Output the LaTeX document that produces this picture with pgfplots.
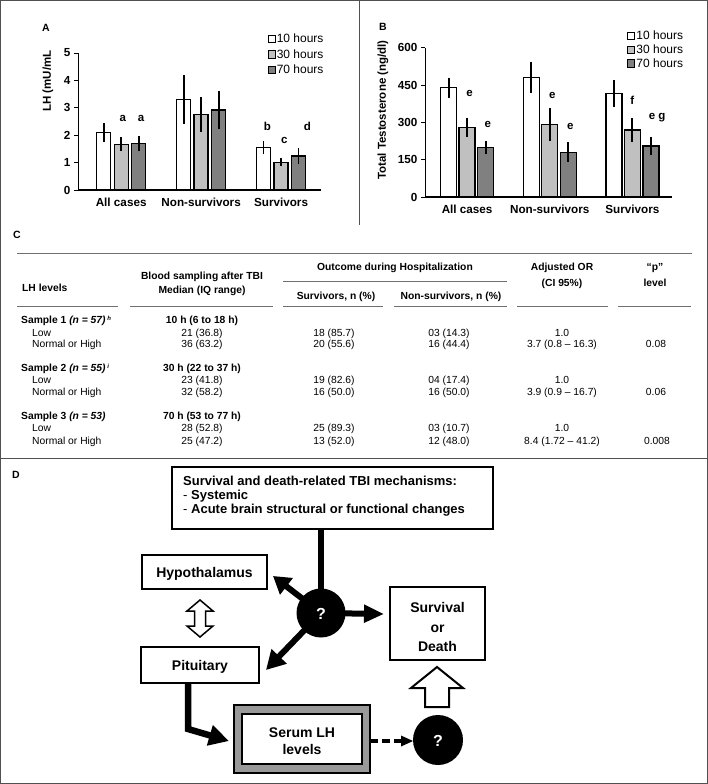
\documentclass[border=0pt]{standalone}
\usepackage{fontspec}
\setmainfont{Liberation Sans}
\usepackage{pgfplots}
\pgfplotsset{compat=1.18}
\usetikzlibrary{arrows.meta}
\definecolor{lg}{HTML}{C0C0C0}
\definecolor{dg}{HTML}{808080}
\definecolor{framec}{HTML}{505050}
\definecolor{rulec}{HTML}{707070}

\pgfplotsset{
  mylegend/.style={legend image code/.code={\draw[##1,line width=1pt] (0pt,-3.6pt) rectangle (7.2pt,3.6pt);}},
  mybar/.style={draw=black, line width=1.3pt, mylegend,
     error bars/y dir=both, error bars/y explicit, error bars/error mark=none,
     error bars/error bar style={line width=1.8pt, black}},
  chart/.style={
    anchor=south west, scale only axis,
    axis x line*=bottom, axis y line*=left,
    x axis line style={line width=1.5pt},
    y axis line style={line width=1pt},
    xtick={0,1,2}, xticklabels={All cases,Non-survivors,Survivors},
    x tick style={draw=none},
    tick align=outside, major tick length=4pt,
    y tick style={line width=0.8pt, black},
    tick label style={font=\fontsize{11.7}{13}\selectfont\bfseries},
    /pgf/number format/assume math mode=true,
    legend cell align=left,
    clip=false,
  },
}
\tikzset{
  tb/.style={font=\fontsize{10.3}{12}\selectfont, inner sep=0pt},
  th/.style={font=\fontsize{10.3}{12}\selectfont\bfseries, inner sep=0pt},
  dg/.style={font=\fontsize{14}{16}\selectfont\bfseries, inner sep=0pt},
}

\begin{document}
\begin{tikzpicture}
\useasboundingbox (0,0) rectangle (708pt,-784pt);

% ---------------- Panel A ----------------
\begin{axis}[chart,
  at={(78pt,-190pt)}, width=243pt, height=137pt,
  xmin=-0.54, xmax=2.5, ymin=0, ymax=5,
  ytick={0,1,2,3,4,5},
  ybar=3.5pt, bar width=14pt,
  legend style={at={(rel axis cs:1.015,1.15)}, anchor=north east, draw=none, fill=none,
    font=\fontsize{12}{13}\selectfont, row sep=3.5pt, inner sep=0pt,
    nodes={inner sep=1pt}},
]
\addplot+[mybar, fill=white] coordinates {(0,2.10) +- (0,0.35) (1,3.31) +- (0,0.90) (2,1.54) +- (0,0.24)};
\addplot+[mybar, fill=lg] coordinates {(0,1.67) +- (0,0.25) (1,2.76) +- (0,0.64) (2,1.01) +- (0,0.14)};
\addplot+[mybar, fill=dg] coordinates {(0,1.70) +- (0,0.28) (1,2.92) +- (0,0.70) (2,1.24) +- (0,0.29)};
\legend{10 hours,30 hours,70 hours}
\node[font=\fontsize{11.5}{13}\selectfont\bfseries] at (axis cs:0.02,2.6) {a};
\node[font=\fontsize{11.5}{13}\selectfont\bfseries] at (axis cs:0.25,2.6) {a};
\node[font=\fontsize{11.5}{13}\selectfont\bfseries] at (axis cs:1.83,2.33) {b};
\node[font=\fontsize{11.5}{13}\selectfont\bfseries] at (axis cs:2.04,1.80) {c};
\node[font=\fontsize{11.5}{13}\selectfont\bfseries] at (axis cs:2.33,2.33) {d};
\end{axis}

% ---------------- Panel B ----------------
\begin{axis}[chart,
  at={(425pt,-197pt)}, width=247pt, height=149.3pt,
  xmin=-0.51, xmax=2.48, ymin=0, ymax=600,
  ytick={0,150,300,450,600},
  ybar=2.5pt, bar width=16pt,
  legend style={at={(rel axis cs:1.05,1.12)}, anchor=north east, draw=none, fill=none,
    font=\fontsize{12}{13}\selectfont, row sep=1.5pt, inner sep=0pt,
    nodes={inner sep=1pt}},
]
\addplot+[mybar, fill=white] coordinates {(0,439) +- (0,41) (1,481) +- (0,62) (2,417) +- (0,55)};
\addplot+[mybar, fill=lg] coordinates {(0,280) +- (0,38) (1,292) +- (0,65) (2,269) +- (0,49)};
\addplot+[mybar, fill=dg] coordinates {(0,198) +- (0,27) (1,180) +- (0,41) (2,205) +- (0,36)};
\legend{10 hours,30 hours,70 hours}
\node[font=\fontsize{11.5}{13}\selectfont\bfseries] at (axis cs:0.03,417) {e};
\node[font=\fontsize{11.5}{13}\selectfont\bfseries] at (axis cs:0.25,293) {e};
\node[font=\fontsize{11.5}{13}\selectfont\bfseries] at (axis cs:1.03,407) {e};
\node[font=\fontsize{11.5}{13}\selectfont\bfseries] at (axis cs:1.25,285) {e};
\node[font=\fontsize{11.5}{13}\selectfont\bfseries] at (axis cs:2.00,387) {f};
\node[font=\fontsize{11.5}{13}\selectfont\bfseries] at (axis cs:2.30,320) {e g};
\end{axis}

\begin{scope}[x=1pt,y=-1pt]
% frame
\draw[framec, line width=1.2pt] (0.6,0.6) rectangle (707.4,783.4);
\draw[framec, line width=1pt] (359,0) -- (359,225);
\draw[framec, line width=1pt] (0,458) -- (708,458);

% panel labels & y labels
\node[font=\fontsize{10.5}{12}\selectfont\bfseries, inner sep=0] at (46,28) {A};
\node[font=\fontsize{10.5}{12}\selectfont\bfseries, inner sep=0] at (383,27) {B};
\node[font=\fontsize{10.5}{12}\selectfont\bfseries, inner sep=0] at (17,235) {C};
\node[font=\fontsize{10.5}{12}\selectfont\bfseries, inner sep=0] at (16,475) {D};
\node[rotate=90, font=\fontsize{11.5}{13}\selectfont\bfseries, inner sep=0] at (48,81) {LH (mU/mL};
\node[rotate=90, font=\fontsize{11.5}{13}\selectfont\bfseries, inner sep=0] at (383,110) {Total Testosterone (ng/dl)};

% ---------------- Table C ----------------
\draw[rulec, line width=1pt] (17,253) -- (692,253);
\draw[rulec, line width=1pt] (283,281) -- (507,281);
\foreach \a/\b in {17/118,130/273,283/383,394/507,517/608,618/691}
  \draw[rulec, line width=1pt] (\a,306) -- (\b,306);

\node[th, anchor=base west] at (22,291.6) {LH levels};
\node[th, anchor=base] at (202,279.6) {Blood sampling after TBI};
\node[th, anchor=base] at (202,293.6) {Median (IQ range)};
\node[th, anchor=base] at (395,270.6) {Outcome during Hospitalization};
\node[th, anchor=base] at (336,299.6) {Survivors, n (\%)};
\node[th, anchor=base] at (451,299.6) {Non-survivors, n (\%)};
\node[th, anchor=base] at (562,270.6) {Adjusted OR};
\node[th, anchor=base] at (562,286.6) {(CI 95\%)};
\node[th, anchor=base] at (655,270.6) {“p”};
\node[th, anchor=base] at (655,286.6) {level};

% sample 1
\node[th, anchor=base west] at (21,323.6) {Sample 1 \textit{(n = 57)}\,\raisebox{0.5ex}{\fontsize{6}{7}\selectfont\textit{h}}};
\node[th, anchor=base] at (202,323.6) {10 h (6 to 18 h)};
\node[tb, anchor=base west] at (32,336.3) {Low};
\node[tb, anchor=base west] at (32,347.9) {Normal or High};
\node[tb, anchor=base] at (202,336.3) {21 (36.8)};
\node[tb, anchor=base] at (202,347.9) {36 (63.2)};
\node[tb, anchor=base] at (334,336.3) {18 (85.7)};
\node[tb, anchor=base] at (334,347.9) {20 (55.6)};
\node[tb, anchor=base] at (449,336.3) {03 (14.3)};
\node[tb, anchor=base] at (449,347.9) {16 (44.4)};
\node[tb, anchor=base] at (562,336.3) {1.0};
\node[tb, anchor=base] at (562,347.9) {3.7 (0.8 – 16.3)};
\node[tb, anchor=base] at (656,347.9) {0.08};
% sample 2
\node[th, anchor=base west] at (21,371.3) {Sample 2 \textit{(n = 55)}\,\raisebox{0.5ex}{\fontsize{6}{7}\selectfont\textit{i}}};
\node[th, anchor=base] at (202,371.3) {30 h (22 to 37 h)};
\node[tb, anchor=base west] at (32,383.6) {Low};
\node[tb, anchor=base west] at (32,395.9) {Normal or High};
\node[tb, anchor=base] at (202,383.6) {23 (41.8)};
\node[tb, anchor=base] at (202,395.9) {32 (58.2)};
\node[tb, anchor=base] at (334,383.6) {19 (82.6)};
\node[tb, anchor=base] at (334,395.9) {16 (50.0)};
\node[tb, anchor=base] at (449,383.6) {04 (17.4)};
\node[tb, anchor=base] at (449,395.9) {16 (50.0)};
\node[tb, anchor=base] at (562,383.6) {1.0};
\node[tb, anchor=base] at (562,395.9) {3.9 (0.9 – 16.7)};
\node[tb, anchor=base] at (656,395.9) {0.06};
% sample 3
\node[th, anchor=base west] at (21,419.1) {Sample 3 \textit{(n = 53)}};
\node[th, anchor=base] at (202,419.1) {70 h (53 to 77 h)};
\node[tb, anchor=base west] at (32,431.9) {Low};
\node[tb, anchor=base west] at (32,444.3) {Normal or High};
\node[tb, anchor=base] at (202,431.9) {28 (52.8)};
\node[tb, anchor=base] at (202,444.3) {25 (47.2)};
\node[tb, anchor=base] at (334,431.9) {25 (89.3)};
\node[tb, anchor=base] at (334,444.3) {13 (52.0)};
\node[tb, anchor=base] at (449,431.9) {03 (10.7)};
\node[tb, anchor=base] at (449,444.3) {12 (48.0)};
\node[tb, anchor=base] at (562,431.9) {1.0};
\node[tb, anchor=base] at (562,444.3) {8.4 (1.72 – 41.2)};
\node[tb, anchor=base] at (657,444.3) {0.008};

% ---------------- Diagram D ----------------
\draw[line width=2pt] (172,467) rectangle (493,529);
\node[font=\fontsize{13}{14}\selectfont\bfseries, inner sep=0, anchor=base west] at (183,485.5) {Survival and death-related TBI mechanisms:};
\node[font=\fontsize{13}{14}\selectfont\bfseries, inner sep=0, anchor=base west] at (183,499.5) {{\mdseries -} Systemic};
\node[font=\fontsize{13}{14}\selectfont\bfseries, inner sep=0, anchor=base west] at (183,513.5) {{\mdseries -} Acute brain structural or functional changes};

\draw[line width=6.5pt] (321,529) -- (321,600);
\draw[line width=6pt, -{Triangle[length=17pt,width=20pt]}] (321,613) -- (273,576);
\draw[line width=6pt, -{Triangle[length=20pt,width=17pt]}] (321,613) -- (384,614);
\draw[line width=6pt, -{Triangle[length=19pt,width=20pt]}] (321,613) -- (266,670);
\fill[black] (321,613) circle[radius=24.5pt];
\node[font=\fontsize{16}{18}\selectfont\bfseries, text=white, inner sep=0] at (321,614) {?};

\draw[line width=2pt] (142,555) rectangle (267,589);
\node[dg, anchor=base] at (204.5,577) {Hypothalamus};

\draw[line width=1.5pt, fill=white] (200,600) -- (213,611) -- (205.5,611) -- (205.5,626) -- (213,626) -- (200,637) -- (187,626) -- (194.5,626) -- (194.5,611) -- (187,611) -- cycle;

\draw[line width=2pt] (141,647) rectangle (259,683);
\node[dg, anchor=base] at (200,670) {Pituitary};

\draw[line width=6.5pt, -{Triangle[length=20pt,width=20pt]}] (188,683) -- (188,729) -- (229,741);

\draw[line width=1.5pt, fill=black!40] (234,705) rectangle (370,773);
\draw[line width=2pt, fill=white] (242,714) rectangle (362,764);
\node[dg, anchor=base] at (302,737) {Serum LH};
\node[dg, anchor=base] at (302,754) {levels};

\draw[line width=3.5pt, dash pattern=on 8pt off 4pt] (370,741) -- (402,741);
\fill[black] (401,735.5) -- (413,741) -- (401,746.5) -- cycle;
\fill[black] (438,740) circle[radius=25pt];
\node[font=\fontsize{16}{18}\selectfont\bfseries, text=white, inner sep=0] at (438,741) {?};

\draw[line width=2pt, fill=white] (437,667) -- (463,688) -- (449,688) -- (449,707) -- (425,707) -- (425,688) -- (411,688) -- cycle;

\draw[line width=2pt] (390,587) rectangle (485,660);
\node[dg, anchor=base] at (437.5,612) {Survival};
\node[dg, anchor=base] at (437.5,632) {or};
\node[dg, anchor=base] at (437.5,651) {Death};
\end{scope}
\end{tikzpicture}
\end{document}
